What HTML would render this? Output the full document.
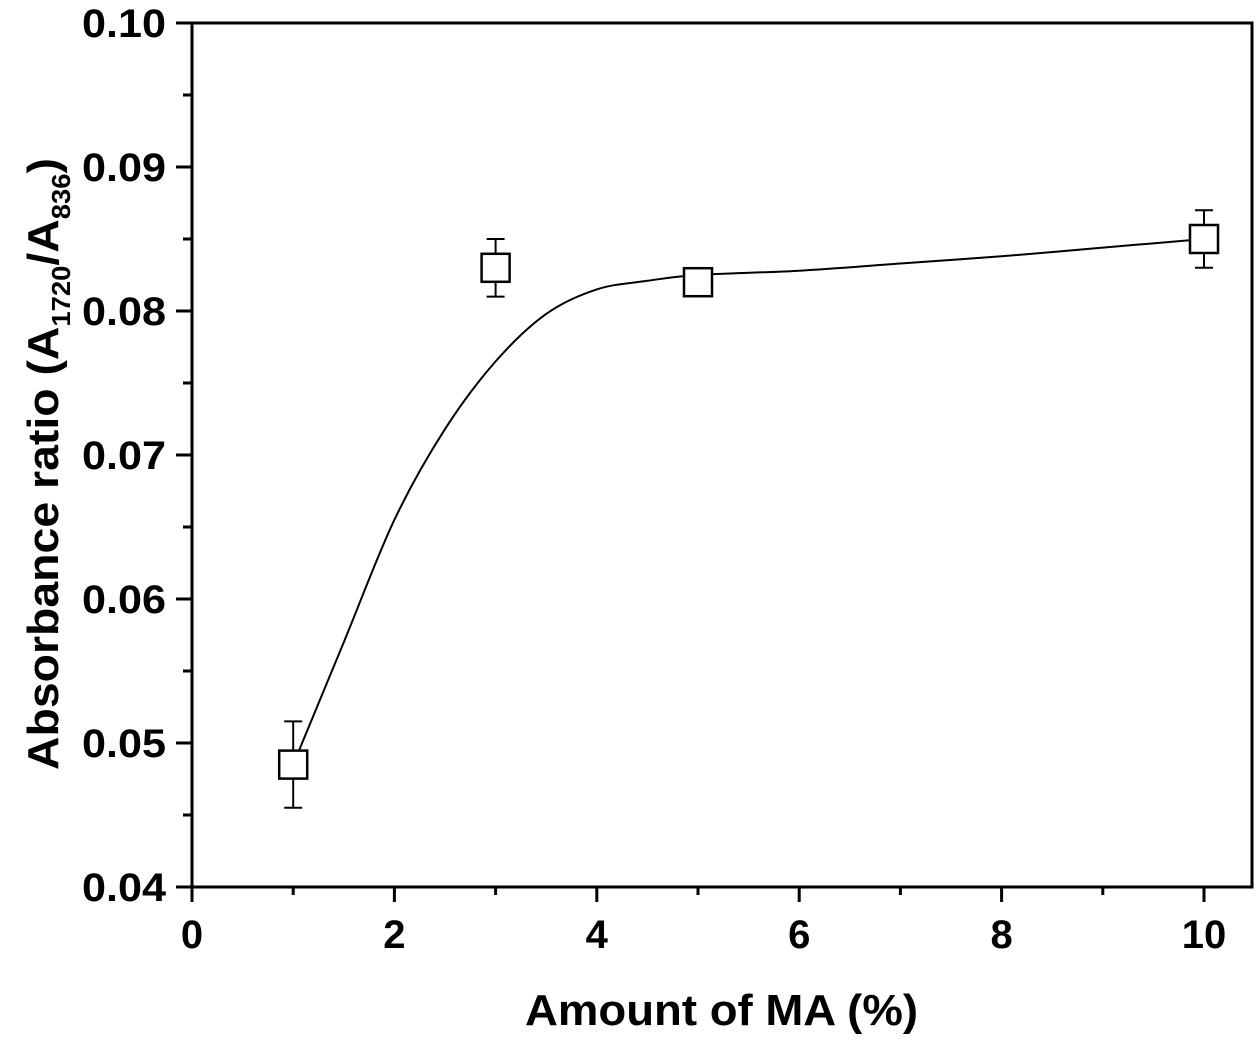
<!DOCTYPE html>
<html><head><meta charset="utf-8"><style>
html,body{margin:0;padding:0;background:#fff;}
svg text{font-family:"Liberation Sans",Arial,sans-serif;font-weight:bold;fill:#000;}
</style></head><body>
<svg id="chart" width="1260" height="1037" xmlns="http://www.w3.org/2000/svg"></svg>
<script>
const xTicks=[0,2,4,6,8,10];
const yTicks=[0.04,0.05,0.06,0.07,0.08,0.09,0.10];
const yTickLabels=["0.04","0.05","0.06","0.07","0.08","0.09","0.10"];
const xVals=[1,3,5,10];
const yVals=[0.0485,0.083,0.082,0.085];
const yErr=[0.003,0.002,0.0009,0.002];
const fitX=[1,1.5,2,2.5,3,3.5,4,4.5,5,6,7,8,9,10];
const fitY=[0.0485,0.057,0.0655,0.0718,0.0765,0.0798,0.0815,0.0821,0.0825,0.0828,0.0833,0.0838,0.0844,0.085];

const svg=document.getElementById('chart');
const NS='http://www.w3.org/2000/svg';
const L=192,R=1252,T=23,B=887;
const sx=v=>L+v*101.2;
const sy=v=>B-(v-0.04)/0.06*(B-T);
function mk(tag,attrs,parent){const e=document.createElementNS(NS,tag);for(const k in attrs)e.setAttribute(k,attrs[k]);(parent||svg).appendChild(e);return e;}

const frame=mk('rect',{x:L,y:T,width:R-L,height:B-T,fill:'none',stroke:'#000','stroke-width':3});



for(let v=0;v<=10;v++){
  const major=v%2===0;
  const t=mk('line',{x1:sx(v),x2:sx(v),y1:B,y2:B+(major?15:8),stroke:'#000','stroke-width':3});
  
  
}
xTicks.forEach(v=>{
  const t=mk('text',{x:sx(v),y:948,'text-anchor':'middle','font-size':40});
  t.textContent=v;
  
  
});
for(let i=0;i<=12;i++){
  const v=0.04+i*0.005;const major=i%2===0;
  const t=mk('line',{x1:L-(major?16:9),x2:L,y1:sy(v),y2:sy(v),stroke:'#000','stroke-width':3});
  
  
}
yTicks.forEach((v,i)=>{
  const t=mk('text',{x:166,y:sy(v)+14,'text-anchor':'end','font-size':40,textLength:84,lengthAdjust:'spacingAndGlyphs'});
  t.textContent=yTickLabels[i];
  
  
});
const xt=mk('text',{x:525,y:1025,'font-size':44,textLength:393,lengthAdjust:'spacingAndGlyphs'});
xt.textContent='Amount of MA (%)';


const yt=mk('text',{transform:'translate(58,770) rotate(-90)','font-size':44,textLength:612,lengthAdjust:'spacingAndGlyphs'});
yt.innerHTML='Absorbance ratio (A<tspan font-size="26" dy="12">1720</tspan><tspan dy="-12">/A</tspan><tspan font-size="26" dy="12">836</tspan><tspan dy="-12">)</tspan>';



const P=fitX.map((x,i)=>[sx(x),sy(fitY[i])]);
let d='M'+P[0][0]+','+P[0][1];
for(let i=0;i<P.length-1;i++){
  const p0=P[i-1]||P[i],p1=P[i],p2=P[i+1],p3=P[i+2]||P[i+1];
  const c1=[p1[0]+(p2[0]-p0[0])/6,p1[1]+(p2[1]-p0[1])/6];
  const c2=[p2[0]-(p3[0]-p1[0])/6,p2[1]-(p3[1]-p1[1])/6];
  d+='C'+c1[0].toFixed(1)+','+c1[1].toFixed(1)+' '+c2[0].toFixed(1)+','+c2[1].toFixed(1)+' '+p2[0].toFixed(1)+','+p2[1].toFixed(1);
}
const fit=mk('path',{d:d,fill:'none',stroke:'#000','stroke-width':2});



xVals.forEach((x,i)=>{
  const cx=sx(x),cy=sy(yVals[i]),yt2=sy(yVals[i]+yErr[i]),yb=sy(yVals[i]-yErr[i]);
  const g=mk('g',{});
  
  
  mk('line',{x1:cx,x2:cx,y1:yt2,y2:yb,stroke:'#000','stroke-width':2},g);
  mk('line',{x1:cx-9,x2:cx+9,y1:yt2,y2:yt2,stroke:'#000','stroke-width':2},g);
  mk('line',{x1:cx-9,x2:cx+9,y1:yb,y2:yb,stroke:'#000','stroke-width':2},g);
  mk('rect',{x:cx-14,y:cy-14,width:28,height:28,fill:'#fff',stroke:'#000','stroke-width':2.5},g);
});
</script>
</body></html>
